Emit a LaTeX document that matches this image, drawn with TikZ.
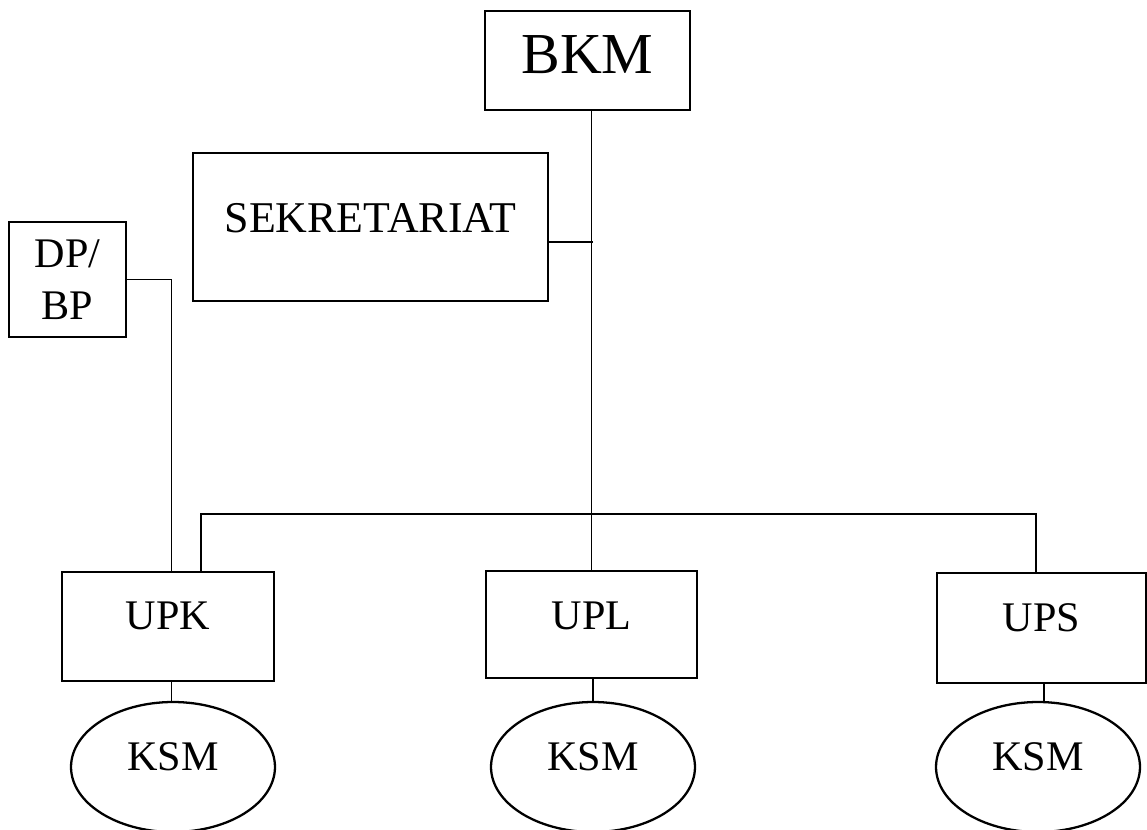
\documentclass[tikz,border=0pt]{standalone}
\usepackage{fontspec}
\setmainfont{Liberation Serif}
\usepackage{tikz}
\usetikzlibrary{shapes.geometric, positioning, calc}

\begin{document}
\begin{tikzpicture}[
    x=0.02cm, y=-0.02cm,
    orgbox/.style={rectangle, draw, line width=1.3pt, align=center, text depth=0.42cm, font=\fontsize{24}{30}\selectfont},
    ksmnode/.style={ellipse, draw, line width=1.3pt, minimum width=4.08cm, minimum height=2.6cm, text depth=0.42cm, font=\fontsize{24}{30}\selectfont},
    link/.style={line width=0.9pt},
]
\useasboundingbox (0,0) rectangle (1147,829);
\node[orgbox, minimum width=4.1cm, minimum height=1.98cm, text depth=0.22cm, font=\fontsize{33}{36}\selectfont] (bkm) at (587.5,60.5) {BKM};
\node[orgbox, minimum width=7.1cm, minimum height=2.96cm, text depth=0.38cm, font=\fontsize{25}{30}\selectfont] (sek) at (370.5,227) {SEKRETARIAT};
\node[orgbox, minimum width=2.34cm, minimum height=2.3cm, text depth=0cm] (dpbp) at (67.5,279.5) {DP/\\BP};
\node[orgbox, minimum width=4.24cm, minimum height=2.18cm] (upk) at (168,626.5) {UPK};
\node[orgbox, minimum width=4.22cm, minimum height=2.14cm, text depth=0.36cm] (upl) at (591.5,624.5) {UPL};
\node[orgbox, minimum width=4.18cm, minimum height=2.2cm] (ups) at (1041.5,628) {UPS};
\node[ksmnode] (ksmk) at (173,767) {KSM};
\node[ksmnode] (ksml) at (593,767) {KSM};
\node[ksmnode] (ksms) at (1038,767) {KSM};
\coordinate (sekjoin) at (593,242);
\coordinate (busl) at (201,514);
\coordinate (busr) at (1036,514);
\draw[link] (upl.north |- bkm.south) -- (upl.north);
\draw[link] (sekjoin -| sek.east) -- (sekjoin);
\draw[link] (dpbp.east) -| ([xshift=2]upk.north);
\draw[link] (busl |- upk.north) -- (busl) -- (busr) -- (busr |- ups.north);
\draw[link] ([xshift=2]upk.south) -- ([xshift=2]upk.south |- ksmk.north);
\draw[link] (ksml.north |- upl.south) -- (ksml.north);
\draw[link] ([xshift=1.5]ups.south) -- ([xshift=1.5]ups.south |- ksms.north);
\end{tikzpicture}
\end{document}
